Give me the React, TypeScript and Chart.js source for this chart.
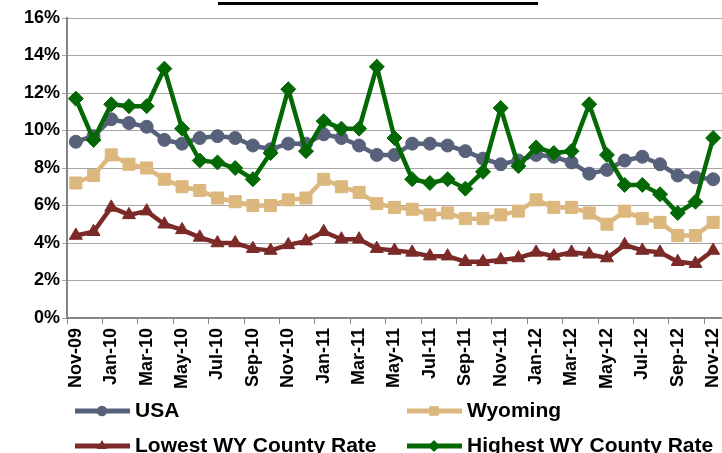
import React, { useEffect, useRef } from 'react';
import { Chart, registerables } from 'chart.js';
import { drawPoint } from 'chart.js/helpers';

Chart.register(...registerables);

const months = [
  'Nov-09', 'Dec-09', 'Jan-10', 'Feb-10', 'Mar-10', 'Apr-10', 'May-10', 'Jun-10', 'Jul-10', 'Aug-10',
  'Sep-10', 'Oct-10', 'Nov-10', 'Dec-10', 'Jan-11', 'Feb-11', 'Mar-11', 'Apr-11', 'May-11', 'Jun-11',
  'Jul-11', 'Aug-11', 'Sep-11', 'Oct-11', 'Nov-11', 'Dec-11', 'Jan-12', 'Feb-12', 'Mar-12', 'Apr-12',
  'May-12', 'Jun-12', 'Jul-12', 'Aug-12', 'Sep-12', 'Oct-12', 'Nov-12',
];

const usa = [
  9.4, 9.7, 10.6, 10.4, 10.2, 9.5, 9.3, 9.6, 9.7, 9.6, 9.2, 9.0, 9.3, 9.3, 9.8, 9.6, 9.2, 8.7, 8.7,
  9.3, 9.3, 9.2, 8.9, 8.5, 8.2, 8.4, 8.7, 8.6, 8.3, 7.7, 7.9, 8.4, 8.6, 8.2, 7.6, 7.5, 7.4,
];

const wyoming = [
  7.2, 7.6, 8.7, 8.2, 8.0, 7.4, 7.0, 6.8, 6.4, 6.2, 6.0, 6.0, 6.3, 6.4, 7.4, 7.0, 6.7, 6.1, 5.9,
  5.8, 5.5, 5.6, 5.3, 5.3, 5.5, 5.7, 6.3, 5.9, 5.9, 5.6, 5.0, 5.7, 5.3, 5.1, 4.4, 4.4, 5.1,
];

const lowestCounty = [
  4.4, 4.6, 5.9, 5.5, 5.7, 5.0, 4.7, 4.3, 4.0, 4.0, 3.7, 3.6, 3.9, 4.1, 4.6, 4.2, 4.2, 3.7, 3.6,
  3.5, 3.3, 3.3, 3.0, 3.0, 3.1, 3.2, 3.5, 3.3, 3.5, 3.4, 3.2, 3.9, 3.6, 3.5, 3.0, 2.9, 3.6,
];

const highestCounty = [
  11.7, 9.5, 11.4, 11.3, 11.3, 13.3, 10.1, 8.4, 8.3, 8.0, 7.4, 8.8, 12.2, 8.9, 10.5, 10.1, 10.1, 13.4, 9.6,
  7.4, 7.2, 7.4, 6.9, 7.8, 11.2, 8.1, 9.1, 8.8, 8.9, 11.4, 8.7, 7.1, 7.1, 6.6, 5.6, 6.2, 9.6,
];

const seriesNames = ['USA', 'Wyoming', 'Lowest WY County Rate', 'Highest WY County Rate'];
const titleText = 'Wyoming Unemployment Rates';

const FONT = "'Liberation Sans', Arial, Helvetica, sans-serif";

const legendPlugin = {
  id: 'gridLegend',
  afterDraw(chart: any) {
    const ctx = chart.ctx;
    const colX = [75, 407];
    const rowY = [411, 446];
    chart.data.datasets.forEach((ds: any, i: number) => {
      const col = i % 2;
      const row = Math.floor(i / 2);
      const x0 = colX[col];
      const y = rowY[row];
      ctx.save();
      ctx.strokeStyle = ds.borderColor;
      ctx.lineWidth = 5;
      ctx.lineCap = 'butt';
      ctx.beginPath();
      ctx.moveTo(x0, y);
      ctx.lineTo(x0 + 55, y);
      ctx.stroke();
      ctx.fillStyle = ds.borderColor;
      ctx.strokeStyle = ds.borderColor;
      drawPoint(ctx, { pointStyle: ds.pointStyle, radius: ds.pointRadius * 0.8, rotation: 0, borderWidth: 0 } as any, x0 + 27, y);
      ctx.fillStyle = '#000';
      ctx.font = `bold 21px ${FONT}`;
      ctx.textBaseline = 'middle';
      ctx.textAlign = 'left';
      ctx.fillText(ds.label, x0 + 60, y);
      ctx.restore();
    });
  },
};

export default function App() {
  const canvasRef = useRef<HTMLCanvasElement>(null);

  useEffect(() => {
    const canvas = canvasRef.current;
    if (!canvas) return;
    const mk = (label: string, data: number[], color: string, style: string, radius: number, order: number) => ({
      label,
      data,
      borderColor: color,
      backgroundColor: color,
      pointBackgroundColor: color,
      pointBorderColor: color,
      pointBorderWidth: 1,
      pointStyle: style,
      pointRadius: radius,
      borderWidth: 4.5,
      tension: 0,
      fill: false,
      order,
    });
    const chart = new Chart(canvas, {
      type: 'line',
      data: {
        labels: months,
        datasets: [
          mk(seriesNames[0], usa, '#57617A', 'circle', 6.5, 3),
          mk(seriesNames[1], wyoming, '#DDB87E', 'rect', 8.5, 2),
          mk(seriesNames[2], lowestCounty, '#7B2A27', 'triangle', 7.5, 1),
          mk(seriesNames[3], highestCounty, '#046804', 'rectRot', 7.5, 0),
        ] as any,
      },
      options: {
        responsive: false,
        devicePixelRatio: 1,
        animation: false,
        layout: { padding: { top: 18, right: 18, left: 0, bottom: 0 } },
        plugins: {
          legend: { display: false },
          tooltip: { enabled: false },
          title: { display: false },
        },
        scales: {
          x: {
            type: 'category',
            offset: true,
            afterFit: (s: any) => {
              s.height = 135;
            },
            grid: {
              offset: true,
              drawOnChartArea: false,
              drawTicks: true,
              tickLength: 6,
              lineWidth: 1,
              color: (c: any) => (c.index !== undefined && c.index % 2 === 0 ? '#868686' : 'rgba(0,0,0,0)'),
            },
            border: { display: true, color: '#868686', width: 2 },
            ticks: {
              autoSkip: false,
              minRotation: 90,
              maxRotation: 90,
              padding: 4,
              color: '#000',
              font: { family: FONT, size: 18, weight: 'bold' },
              callback: (_v: any, i: number) => (i % 2 === 0 ? months[i] : ''),
            },
          },
          y: {
            min: 0,
            max: 16,
            afterFit: (s: any) => {
              s.width = 67;
            },
            grid: {
              color: '#A6A6A6',
              lineWidth: 1,
              drawTicks: true,
              tickLength: 5,
            },
            border: { display: true, color: '#868686', width: 2 },
            ticks: {
              stepSize: 2,
              padding: 2,
              color: '#000',
              font: { family: FONT, size: 18, weight: 'bold' },
              callback: (v: any) => `${v}%`,
            },
          },
        },
      },
      plugins: [legendPlugin],
    } as any);
    return () => chart.destroy();
  }, []);

  return (
    <div
      style={{
        position: 'fixed',
        left: 0,
        top: 0,
        width: 722,
        height: 453,
        overflow: 'hidden',
        background: '#fff',
      }}
    >
      <canvas ref={canvasRef} width={740} height={453} style={{ display: 'block', width: 740, height: 453 }} />
      <div
        style={{
          position: 'absolute',
          left: 218,
          top: -22,
          width: 320,
          height: 24,
          borderBottom: '3px solid #000',
          fontFamily: FONT,
          fontWeight: 'bold',
          fontSize: 20,
          lineHeight: '20px',
          textAlign: 'center',
          whiteSpace: 'nowrap',
          color: '#000',
        }}
      >
        {titleText}
      </div>
    </div>
  );
}
